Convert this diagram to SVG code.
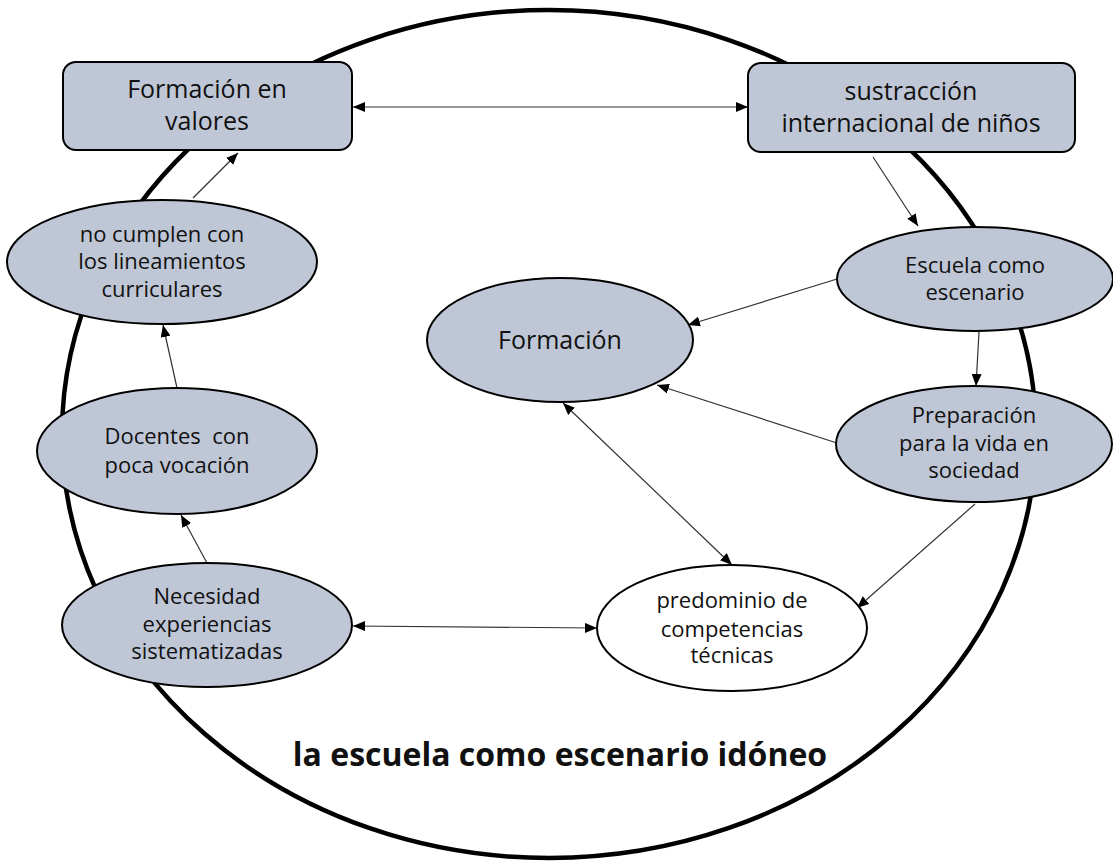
<svg xmlns="http://www.w3.org/2000/svg" width="1113" height="861" viewBox="0 0 1113 861">
<style>
.n{fill:#BFC7D6;stroke:#000;stroke-width:2}
.w{fill:#fff;stroke:#000;stroke-width:2}
.t{font-family:"Open Sans","Noto Sans",sans-serif;fill:#111;text-anchor:middle}
.big{font-size:25px}
.sm{font-size:22px}
.c line{stroke:#333;stroke-width:1.2;fill:none}
</style>
<defs>
<marker id="ah" viewBox="0 0 12 10" refX="12" refY="5" markerWidth="12" markerHeight="10" markerUnits="userSpaceOnUse" orient="auto-start-reverse">
<path d="M0,0 L12,5 L0,10 z" fill="#000"/>
</marker>
</defs>
<rect width="1113" height="861" fill="#fff"/>
<ellipse id="frame" cx="549" cy="434" rx="487" ry="424" fill="none" stroke="#000" stroke-width="4.5"/>
<g class="c">
<line x1="353" y1="107" x2="748" y2="107" marker-start="url(#ah)" marker-end="url(#ah)"/>
<line x1="873" y1="157" x2="918" y2="226" marker-end="url(#ah)"/>
<line x1="837" y1="279" x2="688" y2="325" marker-end="url(#ah)"/>
<line x1="979" y1="332" x2="976" y2="386" marker-end="url(#ah)"/>
<line x1="837" y1="443" x2="657" y2="385" marker-end="url(#ah)"/>
<line x1="563" y1="403" x2="732" y2="565" marker-start="url(#ah)" marker-end="url(#ah)"/>
<line x1="975" y1="504" x2="857" y2="608" marker-end="url(#ah)"/>
<line x1="353" y1="626" x2="597" y2="628" marker-start="url(#ah)" marker-end="url(#ah)"/>
<line x1="207" y1="563" x2="181" y2="515" marker-end="url(#ah)"/>
<line x1="177" y1="388" x2="163" y2="325" marker-end="url(#ah)"/>
<line x1="193" y1="198" x2="238" y2="153" marker-end="url(#ah)"/>
</g>
<g id="valores">
<rect class="n" x="63" y="62" width="289" height="88" rx="13"/>
<text class="t big" x="207" y="98">Formación en</text>
<text class="t big" x="207" y="130">valores</text>
</g>
<g id="sustraccion">
<rect class="n" x="748" y="63" width="327" height="89" rx="13"/>
<text class="t big" x="911" y="100">sustracción</text>
<text class="t big" x="911" y="132">internacional de niños</text>
</g>
<g id="nocumplen">
<ellipse class="n" cx="162" cy="262" rx="155" ry="62"/>
<text class="t sm" x="162" y="242">no cumplen con</text>
<text class="t sm" x="162" y="269">los lineamientos</text>
<text class="t sm" x="162" y="297">curriculares</text>
</g>
<g id="docentes">
<ellipse class="n" cx="177" cy="451" rx="140" ry="63"/>
<text class="t sm" x="177" y="444" xml:space="preserve">Docentes  con</text>
<text class="t sm" x="177" y="473">poca vocación</text>
</g>
<g id="necesidad">
<ellipse class="n" cx="207" cy="625" rx="145" ry="62"/>
<text class="t sm" x="207" y="604">Necesidad</text>
<text class="t sm" x="207" y="632">experiencias</text>
<text class="t sm" x="207" y="659">sistematizadas</text>
</g>
<g id="formacion">
<ellipse class="n" cx="560" cy="340" rx="133" ry="62"/>
<text class="t big" x="560" y="349">Formación</text>
</g>
<g id="escuela">
<ellipse class="n" cx="975" cy="279" rx="138" ry="52"/>
<text class="t sm" x="975" y="273">Escuela como</text>
<text class="t sm" x="975" y="300">escenario</text>
</g>
<g id="preparacion">
<ellipse class="n" cx="974" cy="444" rx="138" ry="58"/>
<text class="t sm" x="974" y="423">Preparación</text>
<text class="t sm" x="974" y="451">para la vida en</text>
<text class="t sm" x="974" y="478">sociedad</text>
</g>
<g id="predominio">
<ellipse class="w" cx="732" cy="628" rx="135" ry="63"/>
<text class="t sm" x="732" y="608">predominio de</text>
<text class="t sm" x="732" y="637">competencias</text>
<text class="t sm" x="732" y="663">técnicas</text>
</g>
<text class="t" x="560" y="766" font-size="32" font-weight="bold">la escuela como escenario idóneo</text>
</svg>
